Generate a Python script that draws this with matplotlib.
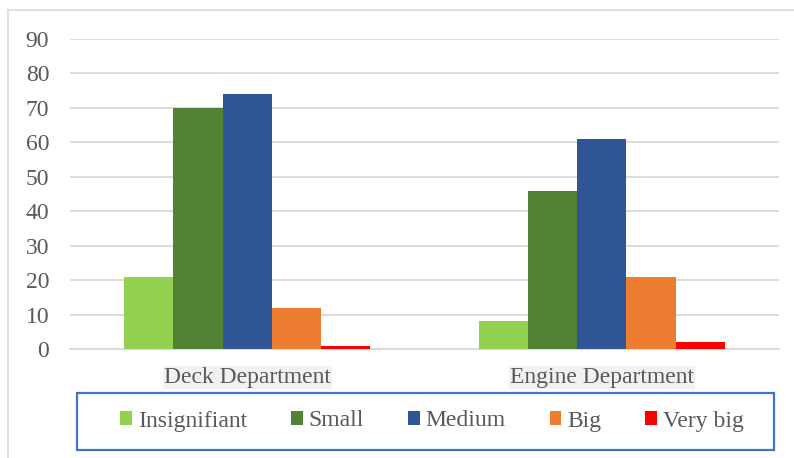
import matplotlib
matplotlib.use("Agg")

import matplotlib.pyplot as plt
from matplotlib.patches import Rectangle
from matplotlib.lines import Line2D
import numpy as np

# ---------------------------------------------------------------- data --
categories = ["Deck Department", "Engine Department"]
series = ["Insignifiant", "Small", "Medium", "Big", "Very big"]
insignifiant = [21, 8]
small = [70, 46]
medium = [74, 61]
big = [12, 21]
very_big = [1, 2]
yticks = [0, 10, 20, 30, 40, 50, 60, 70, 80, 90]

# ------------------------------------------------------------- palette --
COLORS = ["#92d050", "#548235", "#2f5597", "#ed7d31", "#ff0000"]
GRID = "#d9d9d9"
TXT = "#595959"
FS = 17

plt.rcParams["font.family"] = ["Liberation Serif", "DejaVu Serif"]

W, H = 794, 458
fig = plt.figure(figsize=(W / 100, H / 100), dpi=100)
fig.patch.set_facecolor("white")

# axes placed in pixel terms: x 70..779, y(0)=349, y(90)=39
ax = fig.add_axes([70 / W, 1 - 349 / H, (779 - 70) / W, (349 - 39) / H])

x = np.arange(len(categories))
bw = 0.139
values = [insignifiant, small, medium, big, very_big]
for i, (name, vals) in enumerate(zip(series, values)):
    ax.bar(x + (i - 2) * bw, vals, width=bw, color=COLORS[i], label=name,
           zorder=3, linewidth=0)

ax.set_xlim(-0.5, 1.5)
ax.set_ylim(0, 90)
ax.set_yticks(yticks)
ax.set_yticklabels([str(v) for v in yticks])
ax.yaxis.grid(True, color=GRID, lw=1.3, zorder=0)
for s in ["top", "right", "left"]:
    ax.spines[s].set_visible(False)
ax.spines["bottom"].set_color(GRID)
ax.spines["bottom"].set_linewidth(1.3)
ax.tick_params(axis="y", length=0, pad=15, labelsize=FS, labelcolor=TXT)
ax.tick_params(axis="x", length=0, pad=13, labelsize=FS, labelcolor=TXT)

ax.set_xticks(x)
ax.set_xticklabels(categories)
for lab in ax.get_xticklabels():
    lab.set_bbox(dict(boxstyle="square,pad=0.05", facecolor="#f2f2f2",
                      edgecolor="none"))

# legend, with its own box drawn separately
leg = fig.legend(loc="center", bbox_to_anchor=(432 / W, 1 - 421 / H),
                 ncol=5, frameon=False, fontsize=FS, handlelength=0.5,
                 handleheight=0.5, handletextpad=0.25, columnspacing=1.86,
                 labelcolor=TXT)
fig.add_artist(Rectangle((77 / W, 1 - 450 / H), (774 - 77) / W, (450 - 393) / H,
                         transform=fig.transFigure, facecolor="none",
                         edgecolor="#4472c4", lw=1.6))

# outer chart frame (only top and left edges show)
fig.add_artist(Line2D([8 / W, 8 / W], [0, 1 - 10 / H], transform=fig.transFigure,
                      color=GRID, lw=1.2))
fig.add_artist(Line2D([8 / W, 1], [1 - 10 / H, 1 - 10 / H],
                      transform=fig.transFigure, color=GRID, lw=1.2))

fig.savefig("out.png", dpi=100, facecolor="white")
